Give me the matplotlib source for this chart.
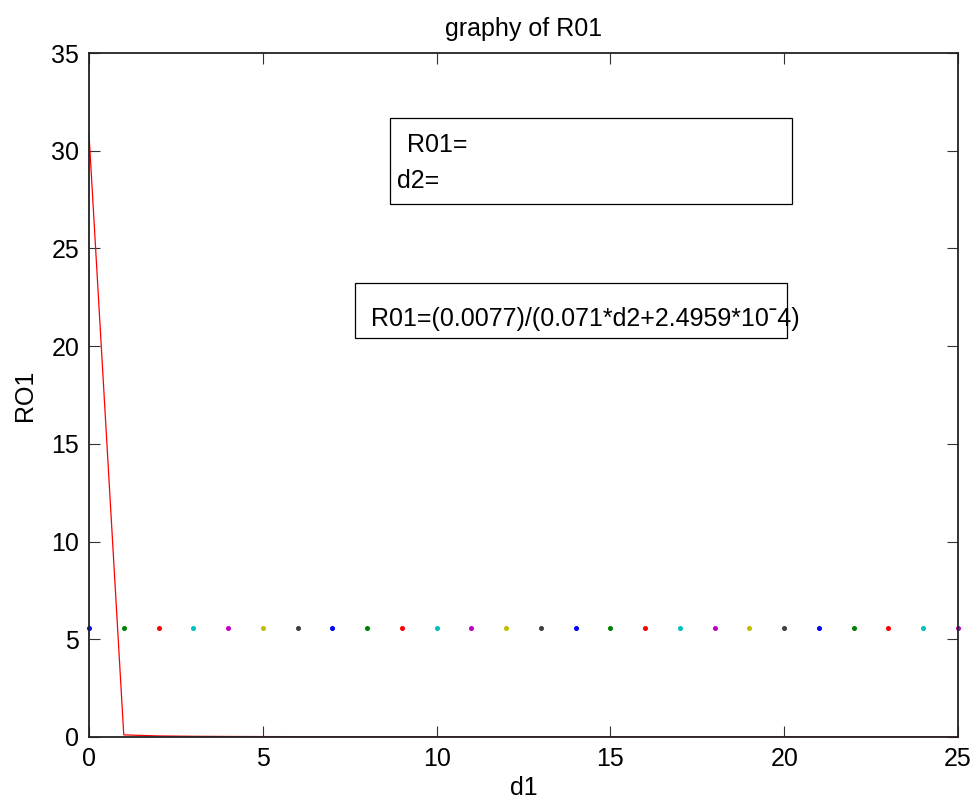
import matplotlib
matplotlib.use("Agg")
import matplotlib.pyplot as plt
from matplotlib.patches import Rectangle

plt.rcParams['font.family'] = ['Liberation Sans', 'DejaVu Sans']

# Data
d1 = list(range(26))
r01 = [30.85, 0.108, 0.054, 0.036, 0.027, 0.0217, 0.0181, 0.0155, 0.0136, 0.0120,
       0.0108, 0.0099, 0.0090, 0.0083, 0.0077, 0.0072, 0.0068, 0.0064, 0.0060, 0.0057,
       0.0054, 0.0052, 0.0049, 0.0047, 0.0045, 0.0043]
dot_level = 5.6
dot_colors = ['b', 'g', 'r', 'c', 'm', 'y', (0.25, 0.25, 0.25)]
title = "graphy of R01"
xlabel = "d1"
ylabel = "RO1"
xticks = [0, 5, 10, 15, 20, 25]
yticks = [0, 5, 10, 15, 20, 25, 30, 35]

W, H = 973, 801
fig = plt.figure(figsize=(W/100, H/100), dpi=100)
ax = fig.add_axes([89/W, 1 - 737/H, (958-89)/W, (737-53)/H])

ax.plot(d1, r01, color='red', linewidth=0.9)
for i, x in enumerate(d1):
    ax.plot([x], [dot_level], marker='o', markersize=2.6, linestyle='none',
            color=dot_colors[i % len(dot_colors)], clip_on=False)

ax.set_xlim(0, 25)
ax.set_ylim(0, 35)
ax.set_xticks(xticks)
ax.set_yticks(yticks)
ax.tick_params(direction='in', length=8, width=0.8, color='#333333', labelsize=18,
               top=True, right=True, pad=7)
for s in ax.spines.values():
    s.set_linewidth(1.3)
    s.set_color('#222222')
ax.set_title(title, fontsize=18, pad=12)
ax.set_xlabel(xlabel, fontsize=18, labelpad=4)
ax.set_ylabel(ylabel, fontsize=18, labelpad=10)

def fr(x0, y0, x1, y1):
    return Rectangle((x0/W, 1 - y1/H), (x1-x0)/W, (y1-y0)/H, transform=fig.transFigure,
                     fill=False, edgecolor='black', linewidth=0.9)

fig.patches.append(fr(390, 118, 792, 204))
fig.patches.append(fr(355, 283, 787, 338))
fig.text(407/W, 1 - 145/H, "R01=", fontsize=18, va='center', ha='left')
fig.text(397/W, 1 - 181/H, "d2=", fontsize=18, va='center', ha='left')
fig.text(371/W, 1 - 319/H, "R01=(0.0077)/(0.071*d2+2.4959*10\u02c94)", fontsize=18,
         va='center', ha='left')

fig.savefig("out.png", dpi=100, facecolor='white')
